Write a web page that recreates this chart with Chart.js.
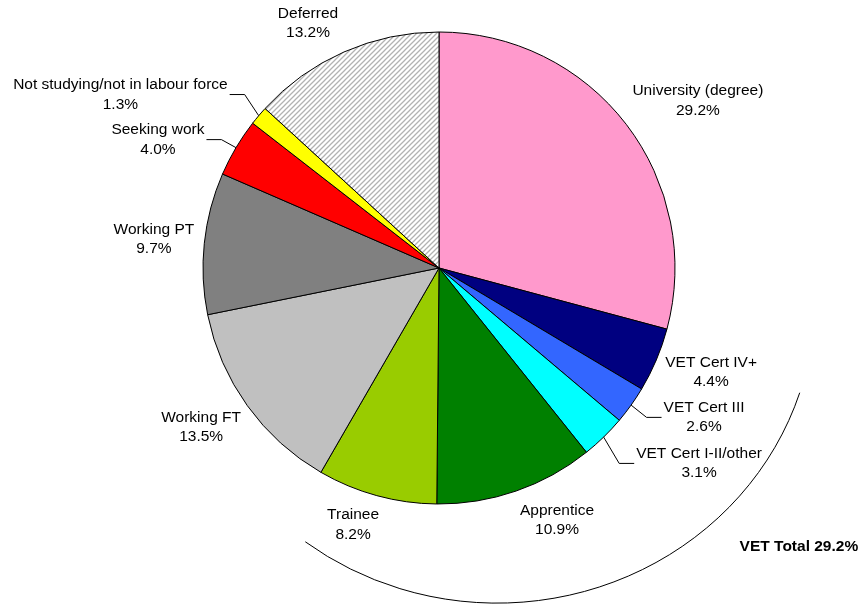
<!DOCTYPE html>
<html>
<head>
<meta charset="utf-8">
<script src="https://cdn.jsdelivr.net/npm/chart.js@4/dist/chart.umd.min.js"></script>
<style>
  html, body { margin: 0; padding: 0; background: #fff; }
  canvas { display: block; }
</style>
</head>
<body>
<canvas id="chart" width="865" height="605"></canvas>
<script>
// ── Data ──────────────────────────────────────────────
const categories = [
  'University (degree)', 'VET Cert IV+', 'VET Cert III', 'VET Cert I-II/other',
  'Apprentice', 'Trainee', 'Working FT', 'Working PT', 'Seeking work',
  'Not studying/not in labour force', 'Deferred'
];
const shares = [29.2, 4.4, 2.6, 3.1, 10.9, 8.2, 13.5, 9.7, 4.0, 1.3, 13.2];
const vetCategories = ['VET Cert IV+', 'VET Cert III', 'VET Cert I-II/other', 'Apprentice', 'Trainee'];
const vetTotalTitle = 'VET Total';

// ── Style ─────────────────────────────────────────────
const FONT = "'Liberation Sans', Arial, sans-serif";

const hatch = (() => {
  const c = document.createElement('canvas');
  c.width = 5; c.height = 5;
  const g = c.getContext('2d');
  g.fillStyle = '#ffffff'; g.fillRect(0, 0, 5, 5);
  g.strokeStyle = '#b2b2b2'; g.lineWidth = 1.3;
  g.beginPath();
  g.moveTo(-1, 6); g.lineTo(6, -1);
  g.moveTo(-1, 1); g.lineTo(1, -1);
  g.moveTo(4, 6); g.lineTo(6, 4);
  g.stroke();
  return g.createPattern(c, 'repeat');
})();

const sliceColors = [
  '#ff99cc', '#000080', '#3366ff', '#00ffff', '#008000', '#99cc00',
  '#c0c0c0', '#808080', '#ff0000', '#ffff00', hatch
];

// label centres, in units of pie radius from the pie centre
const labelLayout = [
  { dx:  1.097, dy: -0.708 },
  { dx:  1.153, dy:  0.441 },
  { dx:  1.123, dy:  0.633, leader: true },
  { dx:  1.102, dy:  0.828, leader: true },
  { dx:  0.500, dy:  1.068 },
  { dx: -0.364, dy:  1.087 },
  { dx: -1.008, dy:  0.674 },
  { dx: -1.208, dy: -0.121 },
  { dx: -1.191, dy: -0.544, leader: true },
  { dx: -1.350, dy: -0.735, leader: true },
  { dx: -0.555, dy: -1.038 }
];

// ── Labels + VET bracket ──────────────────────────────
const pieLabels = {
  id: 'pieLabels',
  afterDatasetsDraw(chart) {
    const { ctx } = chart;
    const arcs = chart.getDatasetMeta(0).data;
    const cx = arcs[0].x, cy = arcs[0].y, R = arcs[0].outerRadius;
    const lineH = 19.5;

    ctx.save();
    ctx.font = `15.5px ${FONT}`;
    ctx.fillStyle = '#000';
    ctx.strokeStyle = '#000';
    ctx.lineWidth = 1;
    ctx.textAlign = 'center';
    ctx.textBaseline = 'middle';

    arcs.forEach((arc, i) => {
      const lay = labelLayout[i];
      const lx = cx + lay.dx * R, ly = cy + lay.dy * R;
      const l1 = categories[i], l2 = shares[i].toFixed(1) + '%';
      ctx.fillText(l1, lx, ly - lineH / 2);
      ctx.fillText(l2, lx, ly + lineH / 2);

      if (lay.leader) {
        const w = Math.max(ctx.measureText(l1).width, ctx.measureText(l2).width);
        const side = lay.dx > 0 ? -1 : 1;
        const ex = lx + side * (w / 2 + 2);
        const bx = ex + side * 15;
        const mid = (arc.startAngle + arc.endAngle) / 2;
        ctx.beginPath();
        ctx.moveTo(ex, ly);
        ctx.lineTo(bx, ly);
        ctx.lineTo(cx + R * Math.cos(mid), cy + R * Math.sin(mid));
        ctx.stroke();
      }
    });

    // bracket round the VET slices
    const deg = Math.PI / 180;
    ctx.beginPath();
    ctx.ellipse(cx + 0.246 * R, cy + 0.136 * R, 1.347 * R, 1.284 * R, 0, 17.8 * deg, 127.1 * deg);
    ctx.stroke();

    const vetTotal = vetCategories.reduce((s, c) => s + shares[categories.indexOf(c)], 0);
    ctx.font = `bold 15.5px ${FONT}`;
    ctx.fillText(`${vetTotalTitle} ${vetTotal.toFixed(1)}%`, cx + 1.525 * R, cy + 1.182 * R);
    ctx.restore();
  }
};

new Chart(document.getElementById('chart').getContext('2d'), {
  type: 'pie',
  data: {
    labels: categories,
    datasets: [{
      data: shares,
      backgroundColor: sliceColors,
      borderColor: '#000',
      borderWidth: 1,
      hoverOffset: 0
    }]
  },
  options: {
    responsive: false,
    animation: false,
    radius: 236,
    layout: { padding: { left: 203, right: 190, top: 32, bottom: 101 } },
    plugins: {
      legend: { display: false },
      tooltip: { enabled: false }
    }
  },
  plugins: [pieLabels]
});
</script>
</body>
</html>
